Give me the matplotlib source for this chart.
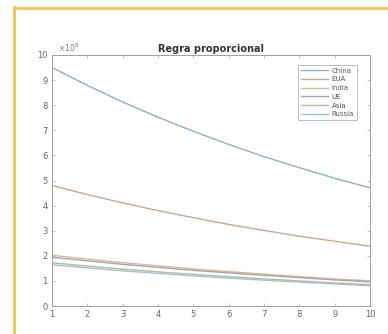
import matplotlib
matplotlib.use("Agg")
import matplotlib.pyplot as plt
from matplotlib.lines import Line2D
import numpy as np

# Years of the projection
years = [1, 2, 3, 4, 5, 6, 7, 8, 9, 10]

# Values in units of 1e8
china = [9.50, 8.79, 8.13, 7.52, 6.96, 6.44, 5.95, 5.51, 5.09, 4.71]
eua = [4.80, 4.44, 4.11, 3.80, 3.52, 3.25, 3.01, 2.78, 2.58, 2.38]
india = [2.02, 1.87, 1.73, 1.60, 1.48, 1.37, 1.27, 1.17, 1.08, 1.00]
ue = [1.94, 1.80, 1.66, 1.54, 1.42, 1.32, 1.22, 1.13, 1.04, 0.96]
asia = [1.72, 1.59, 1.47, 1.36, 1.26, 1.17, 1.08, 1.00, 0.92, 0.85]
russia = [1.64, 1.52, 1.40, 1.30, 1.20, 1.11, 1.03, 0.95, 0.88, 0.81]

labels = ["China", "EUA", "India", "UE", "Asia", "Russia"]
series = [china, eua, india, ue, asia, russia]
colors = ["#0072bd", "#d95319", "#edb120", "#7e2f8e", "#77ac30", "#4dbeee"]

xticks = list(range(1, 11))
yticks = list(range(0, 11))


def faded(c, k=0.75):
    rgb = np.array(matplotlib.colors.to_rgb(c))
    grey = np.array([0.76, 0.76, 0.76])
    return tuple(rgb * (1 - k) + grey * k)


fig = plt.figure(figsize=(3.88, 3.34), dpi=100)
fig.patch.set_facecolor("white")

# Frame lines around the figure panel
frame_col = "#f5c24a"
fig.add_artist(Line2D([14 / 388, 1.0], [1 - 7.5 / 334, 1 - 7.5 / 334],
                      transform=fig.transFigure, color=frame_col, lw=2.0))
fig.add_artist(Line2D([14 / 388, 14 / 388], [0.0, 1 - 6.5 / 334],
                      transform=fig.transFigure, color=frame_col, lw=2.0))

ax = fig.add_axes([52 / 388, 28 / 334, 318 / 388, 251 / 334])
for vals, lab, col in zip(series, labels, colors):
    ax.plot(years, vals, color=faded(col), lw=1.0, label=lab)

ax.set_xlim(1, 10)
ax.set_ylim(0, 10)
ax.set_xticks(xticks)
ax.set_yticks(yticks)
ax.tick_params(direction="in", length=2.5, width=0.5, colors="#aaaaaa",
               labelcolor="#666666", labelsize=6, top=True, right=True, pad=3)
for s in ax.spines.values():
    s.set_color("#a0a0a0")
    s.set_linewidth(0.7)

ax.text(0.02, 1.005, r"$\times10^8$", transform=ax.transAxes, fontsize=5.5,
        color="#777777", ha="left", va="bottom")
ax.set_title("Regra proporcional", fontsize=7, fontweight="bold",
             color="#333333", pad=2)

leg = ax.legend(loc="upper right", fontsize=5, frameon=True, fancybox=False,
                handlelength=4.0, handletextpad=0.5, borderpad=0.4,
                labelspacing=0.4, bbox_to_anchor=(0.97, 0.975))
leg.get_frame().set_edgecolor("#a0a0a0")
leg.get_frame().set_linewidth(0.6)
for t in leg.get_texts():
    t.set_color("#555555")

fig.savefig("out.png", dpi=100)
